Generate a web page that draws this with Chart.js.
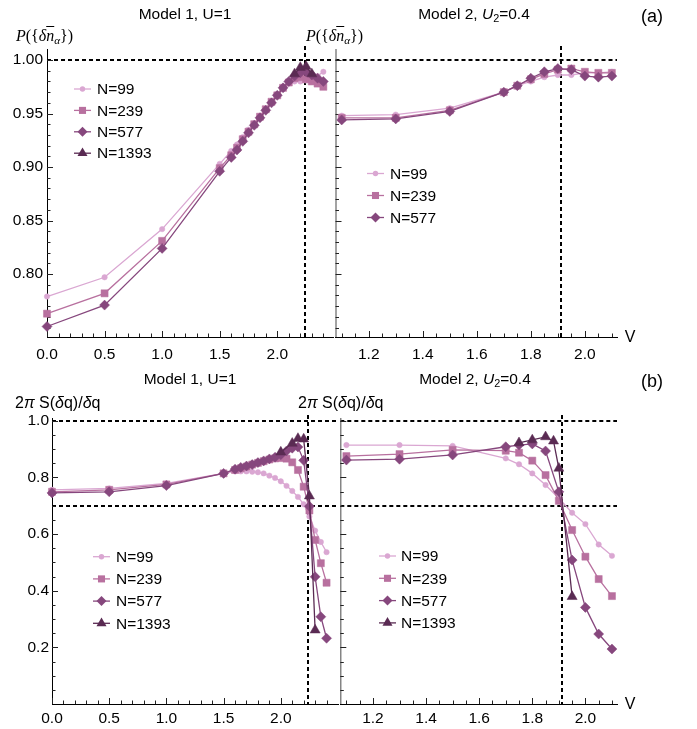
<!DOCTYPE html>
<html>
<head>
<meta charset="utf-8">
<script src="https://cdn.jsdelivr.net/npm/chart.js@4/dist/chart.umd.min.js"></script>
<style>
  html, body { margin: 0; padding: 0; background: #fff; }
  #wrap { position: relative; width: 697px; height: 729px; overflow: hidden; font-family: "Liberation Sans", Arial, sans-serif; color: #000; }
  canvas { position: absolute; }
  .t { position: absolute; white-space: nowrap; transform: translate(-50%, -50%); font-size: 15.5px; line-height: 1; }
  .yl { position: absolute; white-space: nowrap; transform: translateY(-50%); line-height: 1; }
  .serif { font-family: "Liberation Serif", "DejaVu Serif", serif; font-size: 16px; }
  .ov { text-decoration: overline; }
  sub { font-size: 0.7em; vertical-align: -0.25em; line-height: 0; }
</style>
</head>
<body>
<div id="wrap">
  <canvas id="cA1" width="340" height="365" style="left:0;top:0"></canvas>
  <canvas id="cA2" width="367" height="365" style="left:330px;top:0"></canvas>
  <canvas id="cB1" width="345" height="364" style="left:0;top:365px"></canvas>
  <canvas id="cB2" width="363" height="364" style="left:334px;top:365px"></canvas>

  <div class="t" style="left:185px;top:14px">Model 1, U=1</div>
  <div class="t" style="left:474px;top:14px">Model 2, <i>U</i><sub>2</sub>=0.4</div>
  <div class="t" style="left:652px;top:16px;font-size:18px">(a)</div>
  <div class="yl serif" style="left:16px;top:36px"><i>P</i>({<i>δ</i><i class="ov">n</i><sub><i>α</i></sub>})</div>
  <div class="yl serif" style="left:306px;top:36px"><i>P</i>({<i>δ</i><i class="ov">n</i><sub><i>α</i></sub>})</div>
  <div class="t" style="left:630px;top:337px;font-size:16px">V</div>

  <div class="t" style="left:190px;top:379px">Model 1, U=1</div>
  <div class="t" style="left:475px;top:379px">Model 2, <i>U</i><sub>2</sub>=0.4</div>
  <div class="t" style="left:652px;top:381px;font-size:18px">(b)</div>
  <div class="yl" style="left:15px;top:403px;font-size:16px">2<i>π</i> S(<i>δ</i>q)/<i>δ</i>q</div>
  <div class="yl" style="left:298px;top:403px;font-size:16px">2<i>π</i> S(<i>δ</i>q)/<i>δ</i>q</div>
  <div class="t" style="left:630px;top:704px;font-size:16px">V</div>
</div>

<script>
// ---- interaction strength grids ----
const V_model1 = [0, 0.5, 1.0, 1.5, 1.6, 1.65, 1.7, 1.75, 1.8, 1.85, 1.9, 1.95, 2.0, 2.05, 2.1, 2.15, 2.2, 2.25, 2.3, 2.35, 2.4];
const V_model2 = [1.1, 1.3, 1.5, 1.7, 1.75, 1.8, 1.85, 1.9, 1.95, 2.0, 2.05, 2.1];
const V_model1_P_N1393 = [2.15, 2.2, 2.25, 2.3];
const V_model1_S_N1393 = [2.0, 2.1, 2.15, 2.2, 2.25, 2.3];
const V_model2_S_N1393 = [1.75, 1.8, 1.85, 1.88, 1.9, 1.95];

// ---- (a) probability P({δn_α}) ----
const P_m1_N99   = [0.779, 0.797, 0.842, 0.903, 0.915, 0.921, 0.928, 0.935, 0.941, 0.948, 0.954, 0.960, 0.967, 0.973, 0.978, 0.980, 0.980, 0.981, 0.982, 0.985, 0.989];
const P_m1_N239  = [0.763, 0.782, 0.831, 0.899, 0.911, 0.918, 0.926, 0.933, 0.940, 0.947, 0.954, 0.961, 0.967, 0.974, 0.979, 0.983, 0.984, 0.982, 0.980, 0.978, 0.975];
const P_m1_N577  = [0.751, 0.771, 0.824, 0.896, 0.909, 0.916, 0.924, 0.932, 0.939, 0.946, 0.953, 0.960, 0.967, 0.974, 0.980, 0.985, 0.988, 0.989, 0.986, 0.983, 0.980];
const P_m1_N1393 = [0.987, 0.993, 0.994, 0.987];

const P_m2_N99  = [0.948, 0.949, 0.955, 0.970, 0.976, 0.980, 0.984, 0.986, 0.986, 0.988, 0.988, 0.989];
const P_m2_N239 = [0.946, 0.946, 0.953, 0.970, 0.976, 0.982, 0.987, 0.991, 0.992, 0.989, 0.988, 0.988];
const P_m2_N577 = [0.944, 0.945, 0.952, 0.970, 0.976, 0.983, 0.989, 0.992, 0.991, 0.985, 0.984, 0.985];

// ---- (b) 2π S(δq)/δq ----
const S_m1_N99   = [0.756, 0.761, 0.779, 0.814, 0.821, 0.821, 0.821, 0.820, 0.818, 0.814, 0.806, 0.798, 0.786, 0.770, 0.752, 0.731, 0.705, 0.662, 0.612, 0.572, 0.536];
const S_m1_N239  = [0.749, 0.756, 0.775, 0.814, 0.826, 0.832, 0.838, 0.845, 0.851, 0.857, 0.863, 0.867, 0.868, 0.866, 0.853, 0.826, 0.767, 0.683, 0.579, 0.497, 0.428];
const S_m1_N577  = [0.745, 0.749, 0.771, 0.814, 0.829, 0.835, 0.840, 0.845, 0.852, 0.858, 0.865, 0.871, 0.880, 0.893, 0.903, 0.907, 0.860, 0.698, 0.449, 0.308, 0.232];
const S_m1_N1393 = [0.889, 0.920, 0.937, 0.935, 0.734, 0.261];

const S_m2_N99   = [0.914, 0.914, 0.911, 0.867, 0.846, 0.814, 0.773, 0.726, 0.675, 0.635, 0.563, 0.523];
const S_m2_N239  = [0.875, 0.882, 0.897, 0.894, 0.887, 0.859, 0.808, 0.717, 0.614, 0.520, 0.441, 0.381];
const S_m2_N577  = [0.861, 0.864, 0.879, 0.908, 0.914, 0.918, 0.893, 0.749, 0.508, 0.341, 0.247, 0.194];
const S_m2_N1393 = [0.922, 0.932, 0.943, 0.928, 0.832, 0.379];

// ---- tick labels ----
const xTicksModel1 = [0, 0.5, 1.0, 1.5, 2.0];
const xTicksModel2 = [1.2, 1.4, 1.6, 1.8, 2.0];
const yTicksP = [0.80, 0.85, 0.90, 0.95, 1.00];
const yTicksS = [0.2, 0.4, 0.6, 0.8, 1.0];

// reference lines
const V_c_model1 = 2.24;
const V_c_model2 = 1.91;

const FONT = '"Liberation Sans", Arial, sans-serif';

const STYLE = {
  99:   { color: '#DAA7D2', pointStyle: 'circle',   r: 2.7 },
  239:  { color: '#B8709F', pointStyle: 'rect',     r: 5.0 },
  577:  { color: '#86477D', pointStyle: 'rectRot',  r: 5.0 },
  1393: { color: '#5A2B53', pointStyle: 'triangle', r: 5.8 }
};
const ORDER = { 99: 4, 239: 3, 577: 2, 1393: 1 };

function series(N, xs, ys) {
  const s = STYLE[N];
  return {
    label: 'N=' + N,
    data: xs.map((v, i) => ({ x: v, y: ys[i] })),
    borderColor: s.color,
    backgroundColor: s.color,
    pointBackgroundColor: s.color,
    pointBorderColor: s.color,
    pointStyle: s.pointStyle,
    pointRadius: s.r,
    pointHoverRadius: s.r,
    pointBorderWidth: 0.5,
    borderWidth: 1.3,
    tension: 0,
    clip: false,
    order: ORDER[N]
  };
}

function range(a, b, step) {
  const out = [];
  for (let v = a; v <= b + 1e-9; v += step) out.push(+v.toFixed(4));
  return out;
}
function minorsOf(a, b, step, majors) {
  return range(a, b, step).filter(v => !majors.some(m => Math.abs(m - v) < 1e-6));
}

// marker painter for the legend samples (same shapes as the line markers)
function marker(ctx, style, r, x, y) {
  ctx.beginPath();
  if (style === 'circle') {
    ctx.arc(x, y, r, 0, Math.PI * 2);
  } else if (style === 'rect') {
    const h = r * Math.SQRT1_2;
    ctx.rect(x - h, y - h, 2 * h, 2 * h);
  } else if (style === 'rectRot') {
    ctx.moveTo(x - r, y); ctx.lineTo(x, y - r); ctx.lineTo(x + r, y); ctx.lineTo(x, y + r);
  } else if (style === 'triangle') {
    const a = 2 * Math.PI / 3;
    ctx.moveTo(x, y - r);
    ctx.lineTo(x + Math.sin(a) * r, y - Math.cos(a) * r);
    ctx.lineTo(x + Math.sin(2 * a) * r, y - Math.cos(2 * a) * r);
  }
  ctx.closePath();
  ctx.fill();
}

const decor = {
  id: 'decor',
  beforeDatasetsDraw(chart, args, o) {
    const { ctx, chartArea: a } = chart;
    const x = chart.scales.x, y = chart.scales.y;
    ctx.save();
    // dashed reference lines
    ctx.strokeStyle = '#000';
    ctx.lineWidth = 2;
    ctx.setLineDash([4, 3]);
    (o.hLines || []).forEach(v => {
      const py = Math.round(y.getPixelForValue(v));
      ctx.beginPath(); ctx.moveTo(a.left, py); ctx.lineTo(a.right, py); ctx.stroke();
    });
    (o.vLines || []).forEach(v => {
      const px = Math.round(x.getPixelForValue(v));
      ctx.beginPath(); ctx.moveTo(px, a.top - 3); ctx.lineTo(px, a.bottom); ctx.stroke();
    });
    ctx.setLineDash([]);
    // vertical axis line for the unlabelled panel
    if (o.axisLine) {
      ctx.strokeStyle = o.axisLine;
      ctx.lineWidth = 1.2;
      ctx.beginPath(); ctx.moveTo(a.left + 0.5, a.top); ctx.lineTo(a.left + 0.5, a.bottom); ctx.stroke();
    }
    // inward ticks
    ctx.strokeStyle = '#222';
    ctx.lineWidth = 1;
    const t = o.ticks;
    const xt = (vals, len) => vals.forEach(v => {
      const px = Math.round(x.getPixelForValue(v)) + 0.5;
      ctx.beginPath(); ctx.moveTo(px, a.bottom); ctx.lineTo(px, a.bottom - len); ctx.stroke();
    });
    const yt = (vals, len) => vals.forEach(v => {
      const py = Math.round(y.getPixelForValue(v)) + 0.5;
      ctx.beginPath(); ctx.moveTo(a.left, py); ctx.lineTo(a.left + len, py); ctx.stroke();
    });
    xt(t.xMajor, 6); xt(t.xMinor, 3.5);
    yt(t.yMajor, 6); yt(t.yMinor, 3.5);
    ctx.restore();
  },
  afterDatasetsDraw(chart, args, o) {
    const L = o.legend;
    if (!L) return;
    const ctx = chart.ctx;
    ctx.save();
    ctx.font = '15.5px ' + FONT;
    ctx.textBaseline = 'middle';
    ctx.textAlign = 'left';
    chart.data.datasets.forEach((d, i) => {
      const yy = L.y0 + i * L.dy;
      ctx.strokeStyle = d.borderColor;
      ctx.fillStyle = d.borderColor;
      ctx.lineWidth = 1.3;
      ctx.beginPath(); ctx.moveTo(L.x0, yy); ctx.lineTo(L.x1, yy); ctx.stroke();
      marker(ctx, d.pointStyle, d.pointRadius, (L.x0 + L.x1) / 2, yy);
      ctx.fillStyle = '#000';
      ctx.fillText(d.label, L.tx, yy + 1);
    });
    ctx.restore();
  }
};

function xScale(min, max, ticks, height, pad) {
  return {
    type: 'linear', position: 'bottom', min, max,
    afterBuildTicks: s => { s.ticks = ticks.map(v => ({ value: v })); },
    afterFit: s => { s.height = height; },
    grid: { display: false, drawTicks: false },
    border: { display: true, color: '#000', width: 1 },
    ticks: { font: { family: FONT, size: 15.5 }, color: '#000', padding: pad, autoSkip: false, maxRotation: 0,
             callback: v => Number(v).toFixed(1) }
  };
}
function yScale(min, max, ticks, width, digits, padding) {
  return {
    type: 'linear', position: 'left', min, max,
    afterBuildTicks: s => { s.ticks = ticks.map(v => ({ value: v })); },
    afterFit: s => { s.width = width; },
    grid: { display: false, drawTicks: false },
    border: { display: true, color: '#000', width: 1 },
    ticks: { font: { family: FONT, size: 15.5 }, color: '#000', padding, autoSkip: false,
             callback: v => Number(v).toFixed(digits) }
  };
}
function hiddenY(min, max) {
  return { type: 'linear', position: 'left', display: false, min, max };
}

function build(id, datasets, scales, padding, decorOpts) {
  return new Chart(document.getElementById(id), {
    type: 'line',
    data: { datasets },
    options: {
      responsive: false,
      animation: false,
      events: [],
      layout: { padding },
      scales,
      plugins: { legend: { display: false }, tooltip: { enabled: false }, title: { display: false }, decor: decorOpts }
    },
    plugins: [decor]
  });
}

const P_MIN = 0.7412, P_MAX = 1.0103;
const S_MIN = 0.0, S_MAX = 1.0095;
const M1_MIN = 0, M1A_MAX = 2.49, M1B_MAX = 2.50;
const M2_MIN = 1.077, M2_MAX = 2.119;

const pMinor = minorsOf(0.75, 1.00, 0.01, yTicksP);
const sMinor = minorsOf(0.05, 0.95, 0.05, yTicksS);
const m1Minor = minorsOf(0.1, 2.4, 0.1, xTicksModel1);
const m2Minor = minorsOf(1.1, 2.1, 0.05, xTicksModel2);

// (a) Model 1
build('cA1', [
  series(99, V_model1, P_m1_N99),
  series(239, V_model1, P_m1_N239),
  series(577, V_model1, P_m1_N577),
  series(1393, V_model1_P_N1393, P_m1_N1393)
], {
  x: xScale(M1_MIN, M1A_MAX, xTicksModel1, 28, 8),
  y: yScale(P_MIN, P_MAX, yTicksP, 47, 2, 4)
}, { top: 49, right: 6, left: 0, bottom: 0 }, {
  hLines: [1.0], vLines: [V_c_model1],
  ticks: { xMajor: xTicksModel1, xMinor: m1Minor, yMajor: yTicksP, yMinor: pMinor },
  legend: { x0: 74, x1: 91, tx: 97, y0: 89, dy: 21.4 }
});

// (a) Model 2
build('cA2', [
  series(99, V_model2, P_m2_N99),
  series(239, V_model2, P_m2_N239),
  series(577, V_model2, P_m2_N577)
], {
  x: xScale(M2_MIN, M2_MAX, xTicksModel2, 28, 8),
  y: hiddenY(P_MIN, P_MAX)
}, { top: 49, right: 80, left: 4, bottom: 0 }, {
  hLines: [1.0], vLines: [V_c_model2], axisLine: '#666',
  ticks: { xMajor: xTicksModel2, xMinor: m2Minor, yMajor: yTicksP, yMinor: pMinor },
  legend: { x0: 37, x1: 54, tx: 60, y0: 173.5, dy: 22 }
});

// (b) Model 1
build('cB1', [
  series(99, V_model1, S_m1_N99),
  series(239, V_model1, S_m1_N239),
  series(577, V_model1, S_m1_N577),
  series(1393, V_model1_S_N1393, S_m1_N1393)
], {
  x: xScale(M1_MIN, M1B_MAX, xTicksModel1, 25, 5),
  y: yScale(S_MIN, S_MAX, yTicksS, 52, 1, 3)
}, { top: 53, right: 7, left: 0, bottom: 0 }, {
  hLines: [1.0, 0.7], vLines: [V_c_model1],
  ticks: { xMajor: xTicksModel1, xMinor: m1Minor, yMajor: yTicksS, yMinor: sMinor },
  legend: { x0: 93, x1: 110, tx: 116, y0: 191.7, dy: 22.2 }
});

// (b) Model 2
build('cB2', [
  series(99, V_model2, S_m2_N99),
  series(239, V_model2, S_m2_N239),
  series(577, V_model2, S_m2_N577),
  series(1393, V_model2_S_N1393, S_m2_N1393)
], {
  x: xScale(M2_MIN, M2_MAX, xTicksModel2, 25, 5),
  y: hiddenY(S_MIN, S_MAX)
}, { top: 53, right: 80, left: 4, bottom: 0 }, {
  hLines: [1.0, 0.7], vLines: [V_c_model2], axisLine: '#666',
  ticks: { xMajor: xTicksModel2, xMinor: m2Minor, yMajor: yTicksS, yMinor: sMinor },
  legend: { x0: 45, x1: 62, tx: 67, y0: 191, dy: 22.3 }
});
</script>
</body>
</html>
